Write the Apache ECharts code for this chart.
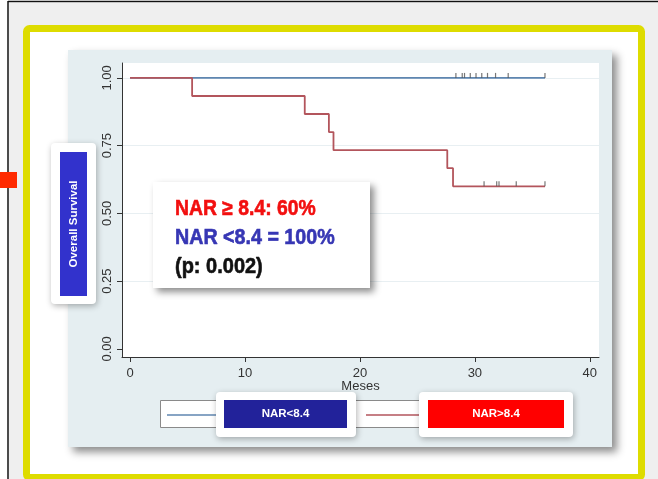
<!DOCTYPE html>
<html>
<head>
<meta charset="utf-8">
<script src="https://cdn.jsdelivr.net/npm/echarts@6/dist/echarts.min.js"></script>
<style>
  html, body { margin: 0; padding: 0; background: #ffffff; }
  #chart { width: 658px; height: 479px; }
</style>
</head>
<body>
<div id="chart"></div>
<script>
// Kaplan–Meier overall survival by NAR group (months on x, survival fraction on y)
const xTicks = [0, 10, 20, 30, 40];
const yTicks = [0, 0.25, 0.5, 0.75, 1];
const gridLines = [0.25, 0.5, 0.75, 1];

// NAR >= 8.4 : step points [month, survival]
const highTimes = [0, 5.4, 15.2, 17.3, 17.7, 27.6, 28.1, 36.1];
const highSurv  = [1, 0.9333, 0.8667, 0.8, 0.7333, 0.6667, 0.6, 0.6];
const highCensor = [30.8, 31.9, 32.1, 33.6, 36.1];

// NAR < 8.4 : no events
const lowTimes = [0, 36.1];
const lowSurv  = [1, 1];
const lowCensor = [28.35, 28.9, 29.1, 29.6, 30.1, 30.6, 31.1, 31.8, 32.9, 36.1];

const statLines = ['NAR \u2265 8.4: 60%', 'NAR <8.4 = 100%', '(p: 0.002)'];
const legendNames = ['NAR<8.4', 'NAR>8.4'];

const blueLine = '#5f86b0';
const redLine = '#b3555c';
const censorColor = '#555555';

function stepData(ts, ss) { return ts.map((t, i) => [t, ss[i]]); }
function survAt(ts, ss, t) {
  let v = ss[0];
  for (let i = 0; i < ts.length; i++) if (ts[i] <= t) v = ss[i];
  return v;
}
function censorData(cs, ts, ss) { return cs.map(t => [t, survAt(ts, ss, t)]); }

const chart = echarts.init(document.getElementById('chart'), null, { renderer: 'canvas' });

const shadow = (blur, ox, oy, a) => ({ shadowBlur: blur, shadowOffsetX: ox, shadowOffsetY: oy, shadowColor: 'rgba(0,0,0,' + a + ')' });
const statFont = 'bold 21.5px "Liberation Sans", Arial, sans-serif';
const statText = (y, sx, text, color) => ({
  type: 'text', z: 62, x: 175, y: y, scaleX: sx,
  style: { text: text, fill: color, stroke: color, lineWidth: 0.6, font: statFont, align: 'left', verticalAlign: 'middle' }
});

const graphics = [
  // page background and frame
  { type: 'rect', z: -100, shape: { x: 9, y: 3, width: 649, height: 476 }, style: { fill: '#efefef' } },
  { type: 'line', z: -99, shape: { x1: 8, y1: 1.5, x2: 658, y2: 1.5 }, style: { stroke: '#111', lineWidth: 1.5 } },
  { type: 'line', z: -99, shape: { x1: 8, y1: 1, x2: 8, y2: 479 }, style: { stroke: '#111', lineWidth: 1.5 } },
  { type: 'rect', z: -98, shape: { x: 0, y: 172, width: 17, height: 16 }, style: { fill: '#ff2a00' } },
  { type: 'rect', z: -97, shape: { x: 26.5, y: 28.5, width: 615, height: 449, r: 3 }, style: { fill: '#ffffff', stroke: '#dedc00', lineWidth: 7 } },
  // plot panel
  { type: 'rect', z: -96, shape: { x: 68, y: 50, width: 544, height: 397 }, style: Object.assign({ fill: '#e5eef1' }, shadow(8, 5, 5, 0.45)) },
  // legend frame with keys
  { type: 'rect', z: 50, shape: { x: 160.5, y: 400.5, width: 405, height: 27 }, style: { fill: '#ffffff', stroke: '#8a8a8a', lineWidth: 1 } },
  { type: 'line', z: 51, shape: { x1: 167, y1: 415, x2: 216, y2: 415 }, style: { stroke: blueLine, lineWidth: 1.6 } },
  { type: 'line', z: 51, shape: { x1: 366, y1: 415, x2: 419, y2: 415 }, style: { stroke: redLine, lineWidth: 1.6 } },
  // legend name badges
  { type: 'rect', z: 60, shape: { x: 216, y: 392, width: 140, height: 45, r: 4 }, style: Object.assign({ fill: '#ffffff' }, shadow(6, 1, 2, 0.3)) },
  { type: 'rect', z: 61, shape: { x: 224, y: 400, width: 123, height: 28 }, style: { fill: '#22229a' } },
  { type: 'text', z: 62, x: 285.5, y: 414, style: { text: legendNames[0], fill: '#fff', font: 'bold 11.5px "Liberation Sans", Arial, sans-serif', align: 'center', verticalAlign: 'middle' } },
  { type: 'rect', z: 60, shape: { x: 419, y: 392, width: 154, height: 45, r: 4 }, style: Object.assign({ fill: '#ffffff' }, shadow(6, 1, 2, 0.3)) },
  { type: 'rect', z: 61, shape: { x: 428, y: 400, width: 136, height: 28 }, style: { fill: '#ff0000' } },
  { type: 'text', z: 62, x: 496, y: 414, style: { text: legendNames[1], fill: '#fff', font: 'bold 11.5px "Liberation Sans", Arial, sans-serif', align: 'center', verticalAlign: 'middle' } },
  // y-axis title badge
  { type: 'rect', z: 60, shape: { x: 51, y: 143, width: 45, height: 161, r: 4 }, style: Object.assign({ fill: '#ffffff' }, shadow(6, 1, 2, 0.3)) },
  { type: 'rect', z: 61, shape: { x: 60, y: 152, width: 27, height: 144 }, style: { fill: '#3232cc' } },
  { type: 'text', z: 62, x: 73.5, y: 224, rotation: Math.PI / 2, style: { text: 'Overall Survival', fill: '#fff', font: 'bold 11.5px "Liberation Sans", Arial, sans-serif', align: 'center', verticalAlign: 'middle' } },
  // statistics box
  { type: 'rect', z: 60, shape: { x: 153, y: 182, width: 217, height: 106 }, style: Object.assign({ fill: '#ffffff' }, shadow(7, 4, 4, 0.45)) },
  statText(209, 0.9, statLines[0], '#f20f0f'),
  statText(238, 0.915, statLines[1], '#3636b4'),
  statText(267, 0.93, statLines[2], '#111111')
];

const option = {
  animation: false,
  backgroundColor: 'transparent',
  graphic: { elements: graphics },
  grid: { left: 122, top: 63, width: 477, height: 294, show: true, backgroundColor: '#ffffff', borderWidth: 0, containLabel: false },
  xAxis: {
    type: 'value', min: -0.7, max: 40.8,
    name: 'Meses', nameLocation: 'middle', nameGap: 23, nameMoveOverlap: false,
    nameTextStyle: { color: '#333', fontSize: 13, fontFamily: '"Liberation Sans", Arial, sans-serif' },
    axisLine: { onZero: false, lineStyle: { color: '#333', width: 1 } },
    axisTick: { customValues: xTicks, length: 5, lineStyle: { color: '#333' } },
    axisLabel: { customValues: xTicks, color: '#333', fontSize: 13, margin: 10, fontFamily: '"Liberation Sans", Arial, sans-serif' },
    splitLine: { show: false }
  },
  yAxis: {
    type: 'value', min: -0.03, max: 1.055,
    axisLine: { show: true, onZero: false, lineStyle: { color: '#333', width: 1 } },
    axisTick: { show: true, customValues: yTicks, length: 5, lineStyle: { color: '#333' } },
    axisLabel: { customValues: yTicks, rotate: 90, color: '#333', fontSize: 13, margin: 8, fontFamily: '"Liberation Sans", Arial, sans-serif', formatter: v => v.toFixed(2) },
    splitLine: { show: false }
  },
  series: [
    {
      type: 'line', data: [], z: 0, zlevel: 0, silent: true,
      markLine: {
        silent: true, symbol: 'none', z: 0, label: { show: false },
        lineStyle: { color: '#e8eff2', width: 1, type: 'solid' },
        data: gridLines.map(v => ({ yAxis: v }))
      }
    },
    { type: 'line', step: 'end', data: stepData(lowTimes, lowSurv), showSymbol: false, z: 5, lineStyle: { color: blueLine, width: 1.8 } },
    { type: 'line', step: 'end', data: stepData(highTimes, highSurv), showSymbol: false, z: 6, lineStyle: { color: redLine, width: 1.8 } },
    { type: 'scatter', data: censorData(lowCensor, lowTimes, lowSurv), symbol: 'rect', symbolSize: [1.2, 5], symbolOffset: [0, -2.5], z: 7, itemStyle: { color: censorColor } },
    { type: 'scatter', data: censorData(highCensor, highTimes, highSurv), symbol: 'rect', symbolSize: [1.2, 5], symbolOffset: [0, -2.5], z: 7, itemStyle: { color: censorColor } }
  ]
};
chart.setOption(option);
</script>
</body>
</html>
